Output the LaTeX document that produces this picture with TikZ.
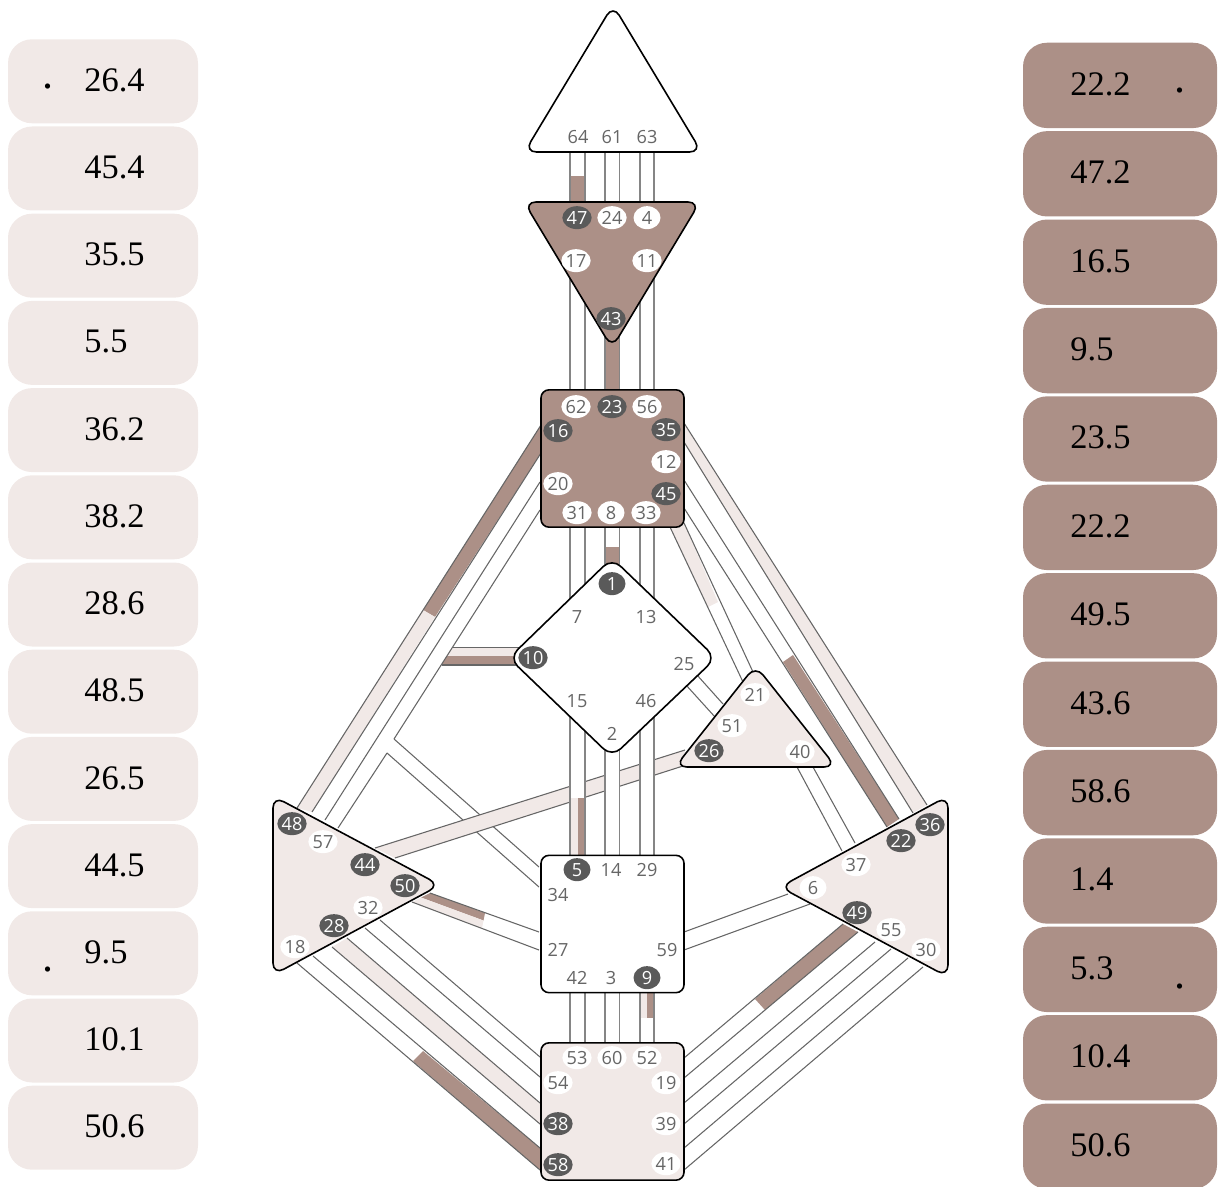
\documentclass[tikz,border=0pt]{standalone}
\usepackage{fontspec}
\setmainfont{Liberation Serif}
\newfontfamily\gatefont{Open Sans}
\usetikzlibrary{shapes.geometric, positioning}
\definecolor{tanfill}{HTML}{AC9087}
\definecolor{palefill}{HTML}{F1E9E7}
\definecolor{gatedark}{HTML}{5A5A5A}
\definecolor{gatetext}{HTML}{666666}
\definecolor{chanedge}{HTML}{666666}
\definecolor{chanvert}{HTML}{858585}
\tikzset{
  leftbox/.style={rectangle, rounded corners=18pt, fill=palefill, minimum width=142.5pt, minimum height=63pt},
  rightbox/.style={rectangle, rounded corners=18pt, fill=tanfill, minimum width=145.5pt, minimum height=64pt},
  valtext/.style={anchor=west, inner sep=0pt, font=\fontsize{25.8}{30}\selectfont},
  marktext/.style={inner sep=0pt, font=\fontsize{33}{36}\selectfont},
  gateon/.style={ellipse, inner sep=0pt, yshift=-0.5pt, fill=gatedark, text=white, minimum width=20.25pt, minimum height=17.25pt, font=\gatefont\fontsize{13.6}{14}\selectfont},
  gateoff/.style={ellipse, inner sep=0pt, yshift=-0.5pt, fill=white, text=gatetext, minimum width=20.25pt, minimum height=17.25pt, font=\gatefont\fontsize{13.6}{14}\selectfont},
  centerline/.style={draw=black, line width=1.2pt, rounded corners=9pt},
  centerbox/.style={rectangle, draw=black, line width=1.2pt, rounded corners=6pt, minimum width=107.25pt, minimum height=103pt, inner sep=0pt},
  chanline/.style={draw=chanedge, line width=0.8pt},
  vertline/.style={draw=chanvert, line width=0.95pt}
}
\newcommand{\channel}[5]{ % #1: name, #2-#3: one edge, #4-#5: other edge
  \coordinate (#1p) at (#2);
  \coordinate (#1q) at (#3);
  \coordinate (#1r) at (#4);
  \coordinate (#1s) at (#5);
  \draw[chanline] (#1p) -- (#1q);
  \draw[chanline] (#1r) -- (#1s);
}
\begin{document}
\begin{tikzpicture}[x=0.75pt, y=-0.75pt]
\useasboundingbox (0,0) rectangle (1220,1187);

% Left column
\foreach \val [count=\i from 0] in {26.4,45.4,35.5,5.5,36.2,38.2,28.6,48.5,26.5,44.5,9.5,10.1,50.6}
{
    \pgfmathsetmacro{\ypos}{81.3+87.2*\i}
    \node[leftbox] (left\i) at (103,\ypos) {};
    \node[valtext] (lefttxt\i) at (84.2,\ypos-1) {\val};
}
\node[marktext] (leftmarka) at (47.5,87) {.};
\node[marktext] (leftmarkb) at (47.5,970) {.};

% Right column
\foreach \val [count=\i from 0] in {22.2,47.2,16.5,9.5,23.5,22.2,49.5,43.6,58.6,1.4,5.3,10.4,50.6}
{
    \pgfmathsetmacro{\ypos}{85.4+88.4*\i}
    \node[rightbox] (right\i) at (1120,\ypos) {};
    \node[valtext] (righttxt\i) at (1070.2,\ypos-1.3) {\val};
}
\node[marktext] (rightmarka) at (1179.5,91) {.};
\node[marktext] (rightmarkb) at (1179.5,987) {.};

% Band fills behind the long channels
\fill[tanfill] (423,610) -- (541,425) -- (541,453) -- (435,617) -- cycle;
\fill[palefill] (297,808) -- (423,610) -- (435,617) -- (312,812) -- cycle;
\fill[palefill] (453,647.5) -- (520,647.5) -- (520,656) -- (447,656) -- cycle;
\fill[tanfill] (447,656) -- (520,656) -- (520,665) -- (441.5,665) -- cycle;
\fill[palefill] (684,423) -- (927,805) -- (913,813) -- (684,442) -- cycle;
\fill[tanfill] (793,655) -- (899,819) -- (887,827) -- (783,662) -- cycle;
\fill[palefill] (670,527) -- (684,523) -- (718,602) -- (708,607) -- cycle;
\fill[tanfill] (430,893) -- (485,913) -- (483.5,920.5) -- (421,897.5) -- cycle;
\fill[palefill] (421,897.5) -- (483.5,920.5) -- (482,928) -- (412,902) -- cycle;
\fill[palefill] (347,938) -- (540,1103) -- (540,1124) -- (332,947) -- cycle;
\fill[tanfill] (423,1051) -- (540,1148) -- (540,1170) -- (413,1061) -- cycle;
\fill[tanfill] (843,924) -- (858,932) -- (765,1010) -- (755,999) -- cycle;

% Channels, thin edges
\channel{ch4816}{297,808}{541,425}{312,812}{541,453}
\channel{ch5720}{325,820}{540,482}{540,510}{394,739}
\channel{ch2034}{394,739}{539,867}{387,753}{539,887}
\coordinate (ch57low) at (338,828);
\draw[chanline] (ch57low) -- (ch2034r);
\channel{ch1020}{453,647.5}{520,647.5}{441.5,665}{520,665}
\channel{ch3536}{684,423}{927,805}{684,442}{913,813}
\channel{ch1222}{684,480}{899,819}{684,508}{887,827}
\channel{ch4521}{670,527}{743,682}{684,523}{753,672}
\channel{ch2551}{697,675}{723,704}{686,685}{715,717}
\channel{ch4037}{797,767}{842,851}{813,767}{855,843}
\channel{ch5027}{430,893}{539,932}{412,902}{539,950}
\channel{ch659}{788,894}{684,932}{810,904}{684,950}
\channel{ch3254}{380,920}{540,1057}{365,928}{540,1077}
\channel{ch2838}{347,938}{540,1103}{332,947}{540,1124}
\channel{ch1858}{313,956}{540,1148}{297,963}{540,1170}
\channel{ch4919}{843,924}{684,1058}{858,932}{684,1078}
\channel{ch5539}{875,942}{684,1103}{891,949}{684,1124}
\channel{ch3041}{908,958}{684,1148}{923,967}{684,1170}

% Band from 44 to 26, over the thin channels
\fill[palefill] (375,848) -- (685,750) -- (683,766) -- (395,858) -- cycle;
\channel{ch4426}{375,848}{685,750}{395,858}{683,766}

% Vertical channels
\foreach \ya/\yb in {152/202,240/390,527/600,710/855,993/1043}
{
    \foreach \xa/\xb in {570/585,605/619.5,640/654}
    {
        \fill[white] (\xa,\ya) rectangle (\xb,\yb);
    }
}
\fill[tanfill] (570,176) rectangle (585,202);
\fill[tanfill] (605,330) rectangle (619.5,390);
\fill[tanfill] (605,547) rectangle (619.5,570);
\fill[palefill] (570,798) rectangle (577.5,855);
\fill[tanfill] (577.5,798) rectangle (585,855);
\fill[palefill] (640,993) rectangle (647,1018);
\fill[tanfill] (647,993) rectangle (654,1018);
\foreach \ya/\yb in {152/202,240/390,527/600,710/855,993/1043}
{
    \foreach \xa/\xb in {570/585,605/619.5,640/654}
    {
        \draw[vertline] (\xa,\ya) -- (\xa,\yb);
        \draw[vertline] (\xb,\ya) -- (\xb,\yb);
    }
}

% Centers
\draw[centerline, fill=white] (613,5) -- (701.5,152) -- (524.5,152) -- cycle;
\draw[centerline, fill=tanfill] (524,202) -- (700,202) -- (612,348) -- cycle;
\node[centerbox, fill=tanfill] (throat) at (612.5,458.5) {};
\draw[centerline, fill=white] (612,558) -- (716,658) -- (612,757) -- (509,658) -- cycle;
\draw[centerline, fill=palefill] (755.5,665.5) -- (836,767) -- (675,767) -- cycle;
\draw[centerline, fill=palefill] (273,796) -- (440,885) -- (273,975) -- cycle;
\draw[centerline, fill=palefill] (948,796) -- (948,977) -- (780,887) -- cycle;
\node[centerbox, fill=white] (sacral) at (612.5,924) {};
\node[centerbox, fill=palefill] (root) at (612.5,1111.5) {};

% Gates that are set
\foreach \n/\x/\y in {47/577/217,43/611/318,23/612/406,16/558/430,35/666/429,45/666/493,1/612/583,10/533/657,26/709/750,48/292/823,44/365/864,50/405/885,28/334/925,36/930/824,22/901/840,49/857/912,5/577/869,9/647/977,38/558/1123,58/558/1164}
{
    \node[gateon] (g\n) at (\x,\y) {\n};
}

% Gates that are open
\foreach \n/\x/\y in {64/578/136,61/612/136,63/647/136,24/612/217,4/647/217,17/576/260,11/647/260,62/576/406,56/647/406,12/666/461,20/558/483,31/577/512,8/611/512,33/646/512,7/577/616,13/646/616,25/684/663,15/577/700,46/646/700,2/612/733,21/755/694,51/732/725,40/800/751,57/323/841,32/368/907,18/295/946,37/856/864,6/813/887,55/891/929,30/926/949,14/611/869,29/647/869,34/558/894,27/558/949,59/667/949,42/577/977,3/611/977,53/577/1057,60/612/1057,52/647/1057,54/558/1082,19/666/1082,39/666/1123,41/666/1163}
{
    \node[gateoff] (g\n) at (\x,\y) {\n};
}

\end{tikzpicture}
\end{document}
